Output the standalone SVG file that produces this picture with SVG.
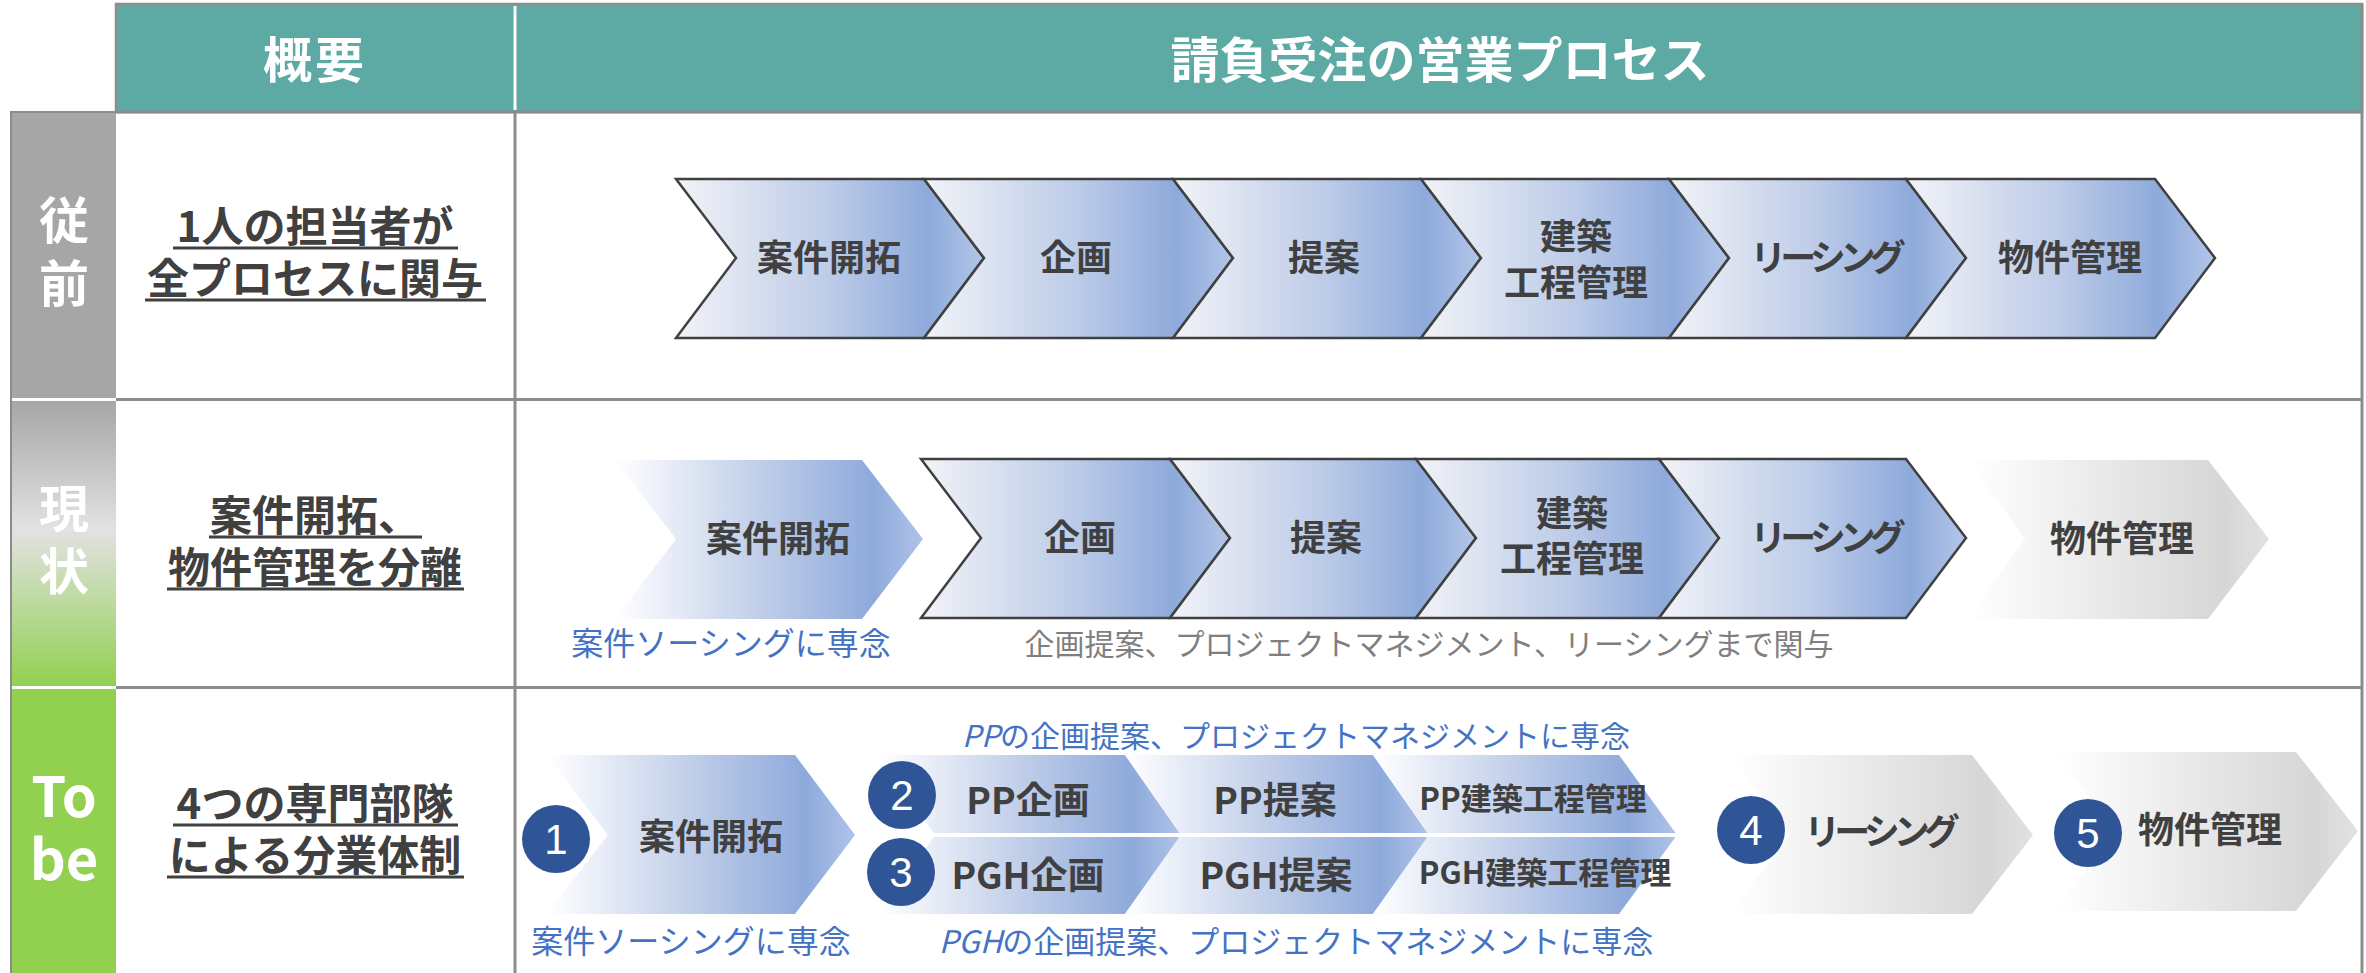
<svg xmlns="http://www.w3.org/2000/svg" width="2366" height="973" viewBox="0 0 2366 973">
<defs>
<linearGradient id="gBlue" x1="0" y1="0" x2="1" y2="0">
<stop offset="0" stop-color="#F2F3F7"/>
<stop offset="0.5" stop-color="#BCCBE8"/>
<stop offset="0.82" stop-color="#8EAADB"/>
<stop offset="1" stop-color="#B3C6E8"/>
</linearGradient>
<linearGradient id="gFade" x1="0" y1="0" x2="1" y2="0">
<stop offset="0" stop-color="#FFFFFF"/>
<stop offset="0.45" stop-color="#C3D0EA"/>
<stop offset="0.84" stop-color="#8EAADB"/>
<stop offset="1" stop-color="#AFC3E8"/>
</linearGradient>
<linearGradient id="gGray" x1="0" y1="0" x2="1" y2="0">
<stop offset="0" stop-color="#FFFFFF"/>
<stop offset="0.85" stop-color="#D6D6D6"/>
<stop offset="1" stop-color="#E2E2E2"/>
</linearGradient>
<linearGradient id="gSide" x1="0" y1="0" x2="0" y2="1">
<stop offset="0" stop-color="#A6A6A6"/>
<stop offset="0.45" stop-color="#E2E2E2"/>
<stop offset="1" stop-color="#92D050"/>
</linearGradient>
<style>
text{font-family:"Noto Sans CJK JP","Noto Sans",sans-serif;text-anchor:middle}
.b{font-weight:700;fill:#404040}
.hd{font-weight:700;fill:#FFFFFF;font-size:49px}
.side{font-weight:700;fill:#FFFFFF;font-size:50px}
.sum{font-weight:700;fill:#404040;font-size:42px}
.ul{stroke:#404040;stroke-width:3}
.st{stroke:#404040;stroke-width:2.5;stroke-linejoin:miter}
.s36{font-size:36px}
.s37{font-size:37px}
.s31{font-size:31px}
.kata{letter-spacing:-6px}
.blue{font-weight:400;fill:#4472C4}
.grey{font-weight:400;fill:#7F7F7F}
.num{fill:#2F5597}
.numt{font-family:"Liberation Sans",Arial,sans-serif;font-weight:400;fill:#FFFFFF;font-size:42px}
.grid{stroke:#8C8C8C;stroke-width:3;fill:none}
</style>
</defs>
<rect width="2366" height="973" fill="#FFFFFF"/>

<g id="table">
<rect x="116" y="4" width="2246" height="108" fill="#5DA9A4" stroke="#8C8C8C" stroke-width="2.5"/>
<line x1="515" y1="6" x2="515" y2="110" stroke="#FFFFFF" stroke-width="3"/>
<rect x="11" y="112" width="105" height="287" fill="#A6A6A6"/>
<rect x="11" y="400" width="105" height="287" fill="url(#gSide)"/>
<rect x="11" y="688" width="105" height="290" fill="#92D050"/>
<line x1="11" y1="112" x2="11" y2="973" stroke="#8C8C8C" stroke-width="2"/>
<line x1="10" y1="112" x2="116" y2="112" stroke="#8C8C8C" stroke-width="2"/>
<line x1="12" y1="399.5" x2="116" y2="399.5" stroke="#FFFFFF" stroke-width="3"/>
<line x1="12" y1="687.5" x2="116" y2="687.5" stroke="#FFFFFF" stroke-width="3"/>
<line class="grid" x1="116" y1="112" x2="2362" y2="112"/>
<line class="grid" x1="116" y1="399.5" x2="2362" y2="399.5"/>
<line class="grid" x1="116" y1="687.5" x2="2362" y2="687.5"/>
<line class="grid" x1="515" y1="112" x2="515" y2="973"/>
<line class="grid" x1="2362" y1="4" x2="2362" y2="973"/>
</g>

<g id="header">
<text class="hd" x="315" y="78" letter-spacing="3">概要</text>
<text class="hd" x="1440" y="78">請負受注の営業プロセス</text>
</g>

<g id="side-labels">
<text class="side" x="64" y="239">従<tspan x="64" y="302">前</tspan></text>
<text class="side" x="64" y="527">現<tspan x="64" y="590">状</tspan></text>
<text class="side" x="64" y="817" style="font-size:56px">To<tspan x="64" y="880">be</tspan></text>
</g>

<g id="summary">
<text class="sum" x="315" y="242">1人の担当者が<tspan x="315" y="294">全プロセスに関与</tspan></text>
<line class="ul" x1="173" y1="248" x2="458" y2="248"/>
<line class="ul" x1="145" y1="300" x2="486" y2="300"/>
<text class="sum" x="315" y="531">案件開拓、<tspan x="315" y="583">物件管理を分離</tspan></text>
<line class="ul" x1="209" y1="537" x2="422" y2="537"/>
<line class="ul" x1="167" y1="589" x2="464" y2="589"/>
<text class="sum" x="315" y="819">4つの専門部隊<tspan x="315" y="871">による分業体制</tspan></text>
<line class="ul" x1="173" y1="825" x2="458" y2="825"/>
<line class="ul" x1="167" y1="877" x2="464" y2="877"/>
</g>

<g id="row1">
<g id="r1-1"><polygon class="st" fill="url(#gBlue)" points="676,179 924,179 984,258 924,338 676,338 736,258"/><text class="b s36" x="829" y="271">案件開拓</text></g>
<g id="r1-2"><polygon class="st" fill="url(#gBlue)" points="924,179 1173,179 1233,258 1173,338 924,338 984,258"/><text class="b s36" x="1076" y="271">企画</text></g>
<g id="r1-3"><polygon class="st" fill="url(#gBlue)" points="1173,179 1421,179 1481,258 1421,338 1173,338 1233,258"/><text class="b s36" x="1324" y="271">提案</text></g>
<g id="r1-4"><polygon class="st" fill="url(#gBlue)" points="1421,179 1669,179 1729,258 1669,338 1421,338 1481,258"/><text class="b s36" x="1576" y="250">建築<tspan x="1576" y="296">工程管理</tspan></text></g>
<g id="r1-5"><polygon class="st" fill="url(#gBlue)" points="1669,179 1906,179 1966,258 1906,338 1669,338 1729,258"/><text class="b s36 kata" x="1825" y="271">リーシング</text></g>
<g id="r1-6"><polygon class="st" fill="url(#gBlue)" points="1906,179 2155,179 2215,258 2155,338 1906,338 1966,258"/><text class="b s36" x="2070" y="271">物件管理</text></g>
</g>

<g id="row2">
<g id="r2-1"><polygon fill="url(#gFade)" points="615,460 862,460 923,539 862,619 615,619 676,539"/><text class="b s36" x="778" y="552">案件開拓</text></g>
<g id="r2-2"><polygon class="st" fill="url(#gBlue)" points="921,459 1170,459 1230,538 1170,618 921,618 981,538"/><text class="b s36" x="1080" y="551">企画</text></g>
<g id="r2-3"><polygon class="st" fill="url(#gBlue)" points="1170,459 1416,459 1476,538 1416,618 1170,618 1230,538"/><text class="b s36" x="1326" y="551">提案</text></g>
<g id="r2-4"><polygon class="st" fill="url(#gBlue)" points="1416,459 1659,459 1719,538 1659,618 1416,618 1476,538"/><text class="b s36" x="1572" y="527">建築<tspan x="1572" y="572">工程管理</tspan></text></g>
<g id="r2-5"><polygon class="st" fill="url(#gBlue)" points="1659,459 1906,459 1966,538 1906,618 1659,618 1719,538"/><text class="b s36 kata" x="1825" y="551">リーシング</text></g>
<g id="r2-6"><polygon fill="url(#gGray)" points="1968,460 2208,460 2269,539 2208,619 1968,619 2025,539"/><text class="b s36" x="2122" y="552">物件管理</text></g>
<text class="blue" x="731" y="655" style="font-size:32px">案件ソーシングに専念</text>
<text class="grey" x="1429" y="655" style="font-size:30px">企画提案、プロジェクトマネジメント、リーシングまで関与</text>
</g>

<g id="row3">
<g id="r3-1"><polygon fill="url(#gFade)" points="547,755 795,755 855,835 795,914 547,914 608,835"/><circle class="num" cx="556" cy="839" r="34"/><text class="numt" x="556" y="854">1</text><text class="b s36" x="711" y="850">案件開拓</text></g>
<g id="r3-pp">
<polygon fill="url(#gFade)" points="879,755 1125,755 1181,835 1125,914 879,914 935,835"/>
<polygon fill="url(#gFade)" points="1125,755 1373,755 1429,835 1373,914 1125,914 1181,835"/>
<polygon fill="url(#gFade)" points="1373,755 1619,755 1677,835 1619,914 1373,914 1429,835"/>
<line x1="870" y1="835" x2="1690" y2="835" stroke="#FFFFFF" stroke-width="4"/>
<circle class="num" cx="902" cy="795" r="34"/><text class="numt" x="902" y="810">2</text>
<circle class="num" cx="901" cy="872" r="34"/><text class="numt" x="901" y="887">3</text>
<text class="b s37" x="1028" y="814">PP企画</text>
<text class="b s37" x="1275" y="814">PP提案</text>
<text class="b s31" x="1533" y="810">PP建築工程管理</text>
<text class="b s37" x="1028" y="889">PGH企画</text>
<text class="b s37" x="1276" y="889">PGH提案</text>
<text class="b s31" x="1545" y="884">PGH建築工程管理</text>
</g>
<g id="r3-4"><polygon fill="url(#gGray)" points="1730,755 1972,755 2033,835 1972,914 1730,914 1790,835"/><circle class="num" cx="1751" cy="830" r="34"/><text class="numt" x="1751" y="845">4</text><text class="b s36 kata" x="1879" y="845">リーシング</text></g>
<g id="r3-5"><polygon fill="url(#gGray)" points="2055,752 2296,752 2358,831 2296,911 2055,911 2115,831"/><circle class="num" cx="2088" cy="833" r="34"/><text class="numt" x="2088" y="848">5</text><text class="b s36" x="2210" y="843">物件管理</text></g>
<text class="blue" x="1296" y="747" style="font-size:30px"><tspan font-style="italic">PP</tspan>の企画提案、プロジェクトマネジメントに専念</text>
<text class="blue" x="1296" y="953" style="font-size:31px"><tspan font-style="italic">PGH</tspan>の企画提案、プロジェクトマネジメントに専念</text>
<text class="blue" x="691" y="953" style="font-size:32px">案件ソーシングに専念</text>
</g>
</svg>
